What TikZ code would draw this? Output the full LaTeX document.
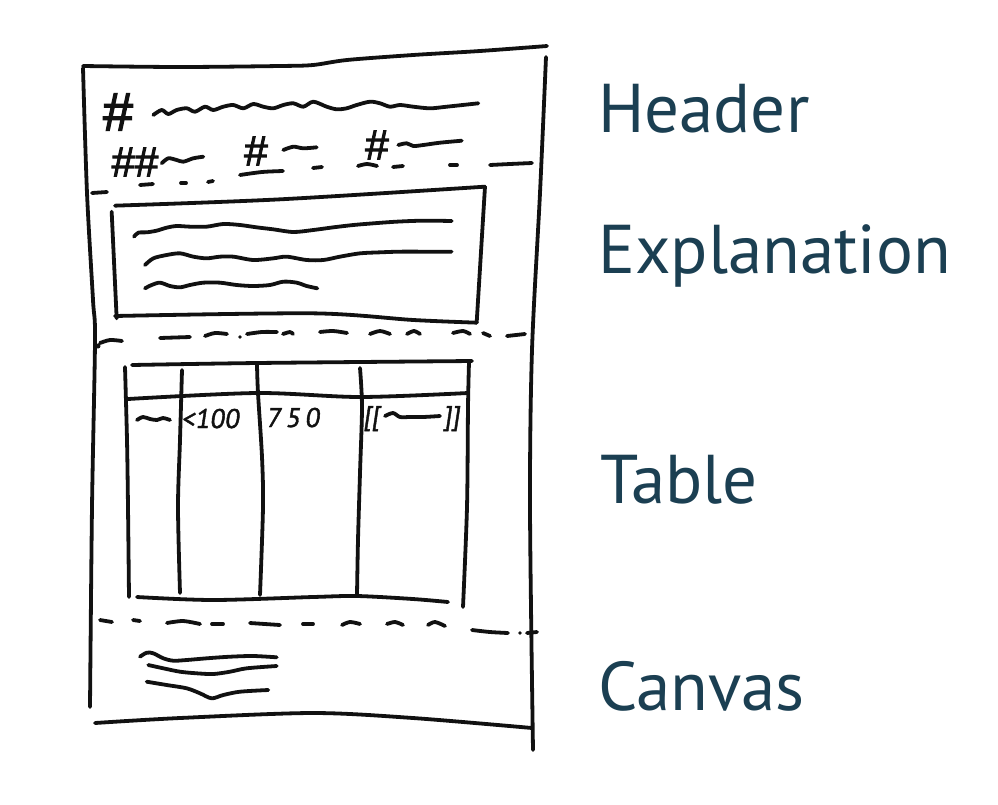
\documentclass[tikz,border=0pt]{standalone}
\usepackage{fontspec}
\newfontfamily\ptsans{PT Sans}
\newfontfamily\hashfont[FakeBold=2.5]{Liberation Sans}
\newfontfamily\handfont[FakeBold=1.5,FakeSlant=0.15]{PT Sans}
\definecolor{labelcol}{HTML}{1B3F52}
\definecolor{inkcol}{HTML}{111111}
\tikzset{
  pen/.style={line width=3.8pt, line cap=round, line join=round, draw=inkcol},
  lbl/.style={font=\ptsans\fontsize{69}{84}\selectfont, text=labelcol, anchor=base west, inner sep=0pt},
  hashbig/.style={font=\hashfont\fontsize{54}{58}\selectfont, text=inkcol, inner sep=0pt},
  hashmid/.style={font=\hashfont\fontsize{42}{46}\selectfont, text=inkcol, inner sep=0pt},
  hand/.style={font=\handfont\fontsize{27}{30}\selectfont, text=inkcol, anchor=base west, inner sep=0pt},
  zA/.style={shift={(80pt,-40pt)}, x=0.33333pt, y=-0.33333pt},
  dotmark/.style={fill=inkcol, draw=none},
}
\begin{document}
\begin{tikzpicture}[x=1pt,y=-1pt]
\useasboundingbox[fill=white] (0,0) rectangle (998,804);

% ---------- outer page ----------
\draw[pen] plot[smooth] coordinates {(83,66) (180,67) (280,66) (313,65) (347,60) (413,55) (480,51) (547,46)};
\draw[pen] plot[smooth] coordinates {(83,68) (87,193) (93,300) (95,340) (92,507) (90,707)};
\draw[pen] plot[smooth] coordinates {(546,57) (540,193) (532,350) (530,507) (533,750)};
\draw[pen] plot[smooth] coordinates {(95,723) (180,718) (313,713) (413,718) (532,728)};

% ---------- header ----------
\node[hashbig] (h1) at (118,112) {\#};
\node[hashmid] (h2) at (135,162) {\#\#};
\node[hashmid] (h3) at (256,151) {\#};
\node[hashmid] (h4) at (377,145) {\#};
\draw[pen] plot[smooth] coordinates {(153.3,115) (161.7,110) (168.3,114) (176.7,110) (186.7,108.3) (195,111.7) (205,106.7) (213.3,110) (223.3,106.7) (233.3,105) (243.3,108.3) (253.3,104) (263.3,106.7) (273.3,108.3) (283.3,105) (293.3,103.3) (303.3,106.7) (313.3,101.7) (326.7,106.7) (336.7,109.3) (346.7,108.3) (356.7,105) (370,101.7) (380,103.3) (390,106.7) (400,105) (413.3,106.7) (430,108.3) (446.7,106.7) (478.3,103.3)};
\draw[pen] plot[smooth] coordinates {(161.7,163.3) (168.3,158.3) (176.7,160) (183.3,161.7) (193.3,158.3) (203.3,156.7)};
\draw[pen] plot[smooth] coordinates {(283.3,150) (293.3,146.7) (303.3,148.3) (316.7,147.3)};
\draw[pen] plot[smooth] coordinates {(398.3,145) (406.7,143.3) (413.3,146) (423.3,145) (440,142.7) (461.7,140.7)};

% dashed separator 1
\draw[pen] (92,193) -- (107,192);
\draw[pen] (140,185) -- (153,184);
\draw[pen] (181,183) -- (186,183);
\draw[pen] (208,182) -- (213,181);
\draw[pen] plot[smooth] coordinates {(240,175) (262,172) (283,171)};
\draw[pen] (313,168) -- (322,167);
\draw[pen] plot[smooth] coordinates {(358,166) (367,164) (377,166)};
\draw[pen] (393,167) -- (403,166);
\draw[pen] (450,165) -- (457,165);
\draw[pen] plot[smooth] coordinates {(490,165) (510,164) (532,163)};

% ---------- explanation box ----------
\begin{scope}[zA]
\draw[pen] plot[smooth] coordinates {(105,497) (600,478) (1215,440)};
\draw[pen] (1215,440) -- (1190,848);
\draw[pen] plot[smooth] coordinates {(105,828) (700,820) (1000,840) (1190,848)};
\draw[pen] (95,515) -- (110,835);
\draw[pen] plot[smooth] coordinates {(162,590) (175,578) (200,577) (230,572) (260,563) (290,558) (330,560) (380,560) (430,552) (480,555) (530,562) (580,568) (640,576) (700,570) (760,562) (820,555) (880,550) (950,545) (1030,542) (1115,543)};
\draw[pen] plot[smooth] coordinates {(195,675) (220,655) (260,645) (300,640) (340,650) (380,655) (420,650) (460,650) (520,660) (580,655) (620,650) (680,660) (730,660) (780,650) (840,640) (900,637) (960,635) (1040,635) (1115,635)};
\draw[pen] plot[smooth] coordinates {(195,745) (215,735) (240,728) (270,738) (300,742) (330,735) (370,728) (420,728) (470,735) (520,738) (570,735) (610,725) (650,728) (680,738) (712,745)};
\end{scope}

% dashed separator 2
\fill[dotmark] (98,346) circle (2.5);
\draw[pen] plot[smooth] coordinates {(100,343) (110,340) (122,341)};
\draw[pen] (160,338) -- (190,337);
\draw[pen] plot[smooth] coordinates {(205,336) (215,333) (227,334)};
\fill[dotmark] (240,337) circle (1.8);
\draw[pen] plot[smooth] coordinates {(247,334) (262,332) (277,332)};
\draw[pen] plot[smooth] coordinates {(283,334) (290,332) (293,334)};
\draw[pen] plot[smooth] coordinates {(320,332) (333,331) (347,333)};
\draw[pen] plot[smooth] coordinates {(370,334) (380,331) (390,334)};
\draw[pen] plot[smooth] coordinates {(407,334) (414,331) (420,334)};
\draw[pen] plot[smooth] coordinates {(453,333) (463,331) (470,334)};
\draw[pen] (483,333) -- (490,336);
\draw[pen] (507,336) -- (525,334);

% ---------- table ----------
\draw[pen] plot[smooth] coordinates {(132,365) (257,363) (472,361)};
\draw[pen] plot[smooth] coordinates {(128,399) (257,393) (360,397) (468,393)};
\draw[pen] plot[smooth] coordinates {(125,367) (127,440) (128,507) (129,597)};
\draw[pen] plot[smooth] coordinates {(182,370) (180,440) (178,507) (180,593)};
\draw[pen] plot[smooth] coordinates {(257,365) (258,393) (262,457) (263,507) (260,595)};
\draw[pen] plot[smooth] coordinates {(360,368) (362,407) (360,473) (358,540) (357,595)};
\draw[pen] plot[smooth] coordinates {(469,362) (468,407) (467,507) (463,607)};
\draw[pen] plot[smooth] coordinates {(137,597) (213,600) (313,597) (357,596) (413,599) (448,602)};
% row content
\draw[pen] plot[smooth] coordinates {(137,420) (143,417) (150,419) (157,420) (163,418) (170,420)};
\node[hand] (c2) at (181,428) {<100};
\node[hand] (c3) at (266,427) {7\,5\,0};
\node[hand] (c4a) at (363,425) {[[};
\draw[pen] plot[smooth] coordinates {(385,416) (393,413) (400,417) (410,417) (423,417) (440,416)};
\node[hand] (c4b) at (443,425) {]]};

% dashed separator 3
\draw[pen] (100,620) -- (112,622);
\draw[pen] (133,620) -- (140,621);
\draw[pen] plot[smooth] coordinates {(167,623) (183,621) (200,624)};
\draw[pen] (212,624) -- (223,624);
\draw[pen] plot[smooth] coordinates {(250,623) (265,624) (280,625)};
\draw[pen] (303,624) -- (313,624);
\draw[pen] plot[smooth] coordinates {(342,625) (350,622) (360,624)};
\draw[pen] plot[smooth] coordinates {(387,624) (395,622) (403,625)};
\draw[pen] plot[smooth] coordinates {(428,625) (435,622) (445,626)};
\draw[pen] plot[smooth] coordinates {(472,630) (490,632) (508,633)};
\fill[dotmark] (520,633) circle (1.8);
\draw[pen] (527,633) -- (537,632);

% ---------- canvas ----------
\draw[pen] plot[smooth] coordinates {(140,656.7) (146.7,652.7) (153.3,653.3) (163.3,658.3) (173.3,660.7) (186.7,660) (206.7,658.3) (230,656.7) (253.3,656) (276.7,657.3)};
\draw[pen] plot[smooth] coordinates {(148.3,665) (163.3,668.3) (180,671.7) (196.7,673.3) (213.3,674) (230,671.7) (246.7,668.3) (276.7,666)};
\draw[pen] plot[smooth] coordinates {(146.7,681.7) (166.7,685) (186.7,688.3) (200,693.3) (211.7,698.3) (223.3,695) (240,691.7) (268.3,690)};

% ---------- labels ----------
\node[lbl] (lh) at (598,132) {Header};
\node[lbl] (le) at (598,273) {Explanation};
\node[lbl] (lt) at (600,503) {Table};
\node[lbl] (lc) at (598,710) {Canvas};
\end{tikzpicture}
\end{document}
